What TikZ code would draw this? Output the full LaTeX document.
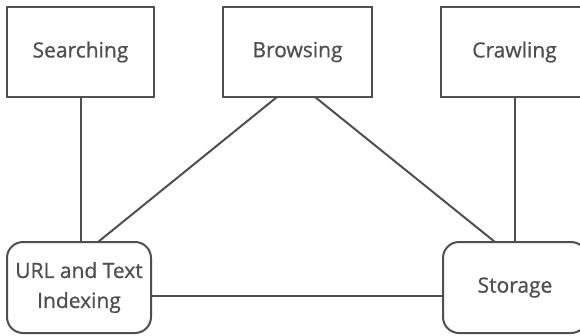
\documentclass[tikz,border=0pt]{standalone}
\usepackage{fontspec}
\setmainfont{Open Sans}[FakeBold=0.8]
\definecolor{ink}{HTML}{4F4F4F}
\begin{document}
\begin{tikzpicture}[x=1pt,y=-1pt,
  every node/.style={inner sep=0pt,outer sep=0pt},
  sqbox/.style={draw=ink,line width=2pt,minimum width=147pt,minimum height=90pt,font=\fontsize{21}{26}\selectfont,text=ink},
  rdbox/.style={draw=ink,line width=2pt,rounded corners=16pt,minimum width=144pt,minimum height=91pt,font=\fontsize{21}{30}\selectfont,text=ink,align=center},
  link/.style={draw=ink,line width=2pt}]
\useasboundingbox (0,0) rectangle (580,335);
\node[sqbox] (srch) at (80.5,52) {Searching};
\node[sqbox,minimum width=149pt] (brow) at (297.5,52) {Browsing};
\node[sqbox] (crawl) at (514.5,52) {Crawling};
\node[rdbox] (url) at (79,287.5) {URL and Text\\Indexing};
\node[rdbox] (stor) at (515,287.5) {Storage};
\draw[link] (srch.south) -- (srch.south |- url.north);
\draw[link] (crawl.south) -- (crawl.south |- stor.north);
\draw[link] ([xshift=-20.5pt]brow.south) -- ([xshift=19pt]url.north);
\draw[link] ([xshift=17.5pt]brow.south) -- ([xshift=-20pt]stor.north);
\draw[link] ([yshift=-8.5pt]url.east) -- ([yshift=-8.5pt]stor.west);
\end{tikzpicture}
\end{document}
